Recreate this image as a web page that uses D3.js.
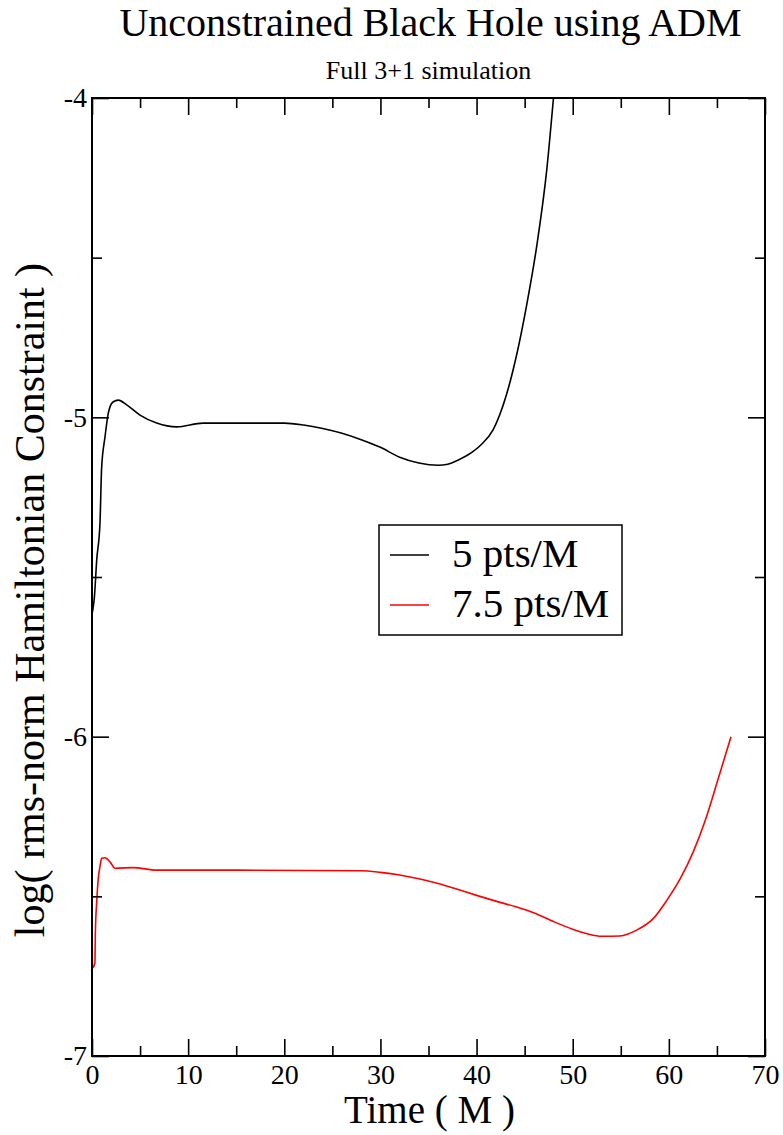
<!DOCTYPE html>
<html>
<head>
<meta charset="utf-8">
<script src="https://cdn.jsdelivr.net/npm/d3@7"></script>
<style>
  html, body { margin: 0; padding: 0; background: #fff; }
  svg { display: block; font-family: "Liberation Serif", "Times New Roman", serif; }
  svg text { font-family: "Liberation Serif", "Times New Roman", serif !important; }
</style>
</head>
<body>
<svg id="chart" width="783" height="1135"></svg>
<script>
// Hamiltonian constraint (log10 of rms norm) vs. time for two resolutions
const timeLow = [0, 0.05, 0.1, 0.24, 0.49, 0.83, 1.0, 1.35, 1.7, 2.18, 2.74, 3.61, 4.99, 6.73, 8.81, 11.55,
  17.5, 20, 22, 24, 26, 28, 30, 32, 34, 36, 37, 38, 39.5, 40.5, 41.7, 43.1, 44.2, 45.2, 46.3, 47.3, 48.0, 48.6];
const hcLow = [-5.55, -5.61, -5.60, -5.566, -5.447, -5.331, -5.159, -5.062, -4.986, -4.952, -4.946, -4.961,
  -4.993, -5.018, -5.030, -5.018, -5.018, -5.018, -5.024, -5.035, -5.050, -5.070, -5.094, -5.125, -5.143,
  -5.150, -5.147, -5.135, -5.110, -5.085, -5.040, -4.930, -4.800, -4.650, -4.455, -4.225, -4.0, -3.8];

const timeHigh = [0, 0.07, 0.3, 0.35, 0.49, 0.66, 0.83, 1.0, 1.35, 1.87, 2.39, 4.3, 6.73, 15, 28, 30, 32, 34,
  36, 38, 40, 42, 44, 46, 48, 50, 51.5, 53, 54.9, 56.7, 58.4, 59.8, 61.2, 62.55, 63.8, 65.1, 66.47];
const hcHigh = [-6.58, -6.724, -6.709, -6.615, -6.517, -6.443, -6.407, -6.381, -6.379, -6.392, -6.412,
  -6.410, -6.418, -6.418, -6.42, -6.425, -6.433, -6.445, -6.46, -6.478, -6.497, -6.515, -6.532, -6.552,
  -6.579, -6.603, -6.617, -6.625, -6.624, -6.605, -6.569, -6.512, -6.444, -6.360, -6.261, -6.135, -6.0];

const seriesNames = ["5 pts/M", "7.5 pts/M"];
const seriesColors = ["#000000", "#ff0000"];
const xTicks = [0, 10, 20, 30, 40, 50, 60, 70];
const yTicks = [-7, -6, -5, -4];

const titleText = "Unconstrained Black Hole using ADM";
const subtitleText = "Full 3+1 simulation";
const xLabel = "Time ( M )";
const yLabel = "log( rms-norm Hamiltonian Constraint )";

const svg = d3.select("#chart");
const m = { left: 92, right: 765, top: 98, bottom: 1056 };

const x = d3.scaleLinear().domain([0, 70]).range([m.left, m.right]);
const y = d3.scaleLinear().domain([-7, -4]).range([m.bottom, m.top]);

svg.append("defs").append("clipPath").attr("id", "plot-clip")
  .append("rect").attr("x", m.left).attr("y", m.top)
  .attr("width", m.right - m.left).attr("height", m.bottom - m.top);

// Curves
const series = [
  { name: seriesNames[0], color: seriesColors[0], pts: timeLow.map((t, i) => [t, hcLow[i]]) },
  { name: seriesNames[1], color: seriesColors[1], pts: timeHigh.map((t, i) => [t, hcHigh[i]]) }
];
const line = d3.line().x(d => x(d[0])).y(d => y(d[1])).curve(d3.curveMonotoneX);
svg.append("g").attr("clip-path", "url(#plot-clip)")
  .selectAll("path").data(series).join("path")
  .attr("d", d => line(d.pts))
  .attr("fill", "none").attr("stroke", d => d.color).attr("stroke-width", 1.6);

// Frame with inward ticks on all four sides
const majorLen = 17, minorLen = 10;
const xMinor = d3.range(5, 70, 10);
const yMinor = [-6.5, -5.5, -4.5];
const fmt = d => String(d);
function styleAxis(g) {
  g.select(".domain").remove();
  g.selectAll(".tick line").attr("stroke", "#000").attr("stroke-width", 1.6);
  g.selectAll(".tick text").attr("fill", "#000").style("font-size", "28px");
}
function addAxis(axisFn, pos, transform, values, len, labels, pad) {
  let a = axisFn(pos).tickValues(values).tickSizeInner(-len).tickSizeOuter(0);
  a = labels ? a.tickFormat(fmt).tickPadding(pad) : a.tickFormat("");
  svg.append("g").attr("transform", transform).call(a).call(styleAxis);
}
addAxis(d3.axisBottom, x, `translate(0,${m.bottom})`, xTicks, majorLen, true, 8);
addAxis(d3.axisBottom, x, `translate(0,${m.bottom})`, xMinor, minorLen, false);
addAxis(d3.axisTop, x, `translate(0,${m.top})`, xTicks, majorLen, false);
addAxis(d3.axisTop, x, `translate(0,${m.top})`, xMinor, minorLen, false);
addAxis(d3.axisLeft, y, `translate(${m.left},0)`, yTicks, majorLen, true, 5);
addAxis(d3.axisLeft, y, `translate(${m.left},0)`, yMinor, minorLen, false);
addAxis(d3.axisRight, y, `translate(${m.right},0)`, yTicks, majorLen, false);
addAxis(d3.axisRight, y, `translate(${m.right},0)`, yMinor, minorLen, false);

svg.append("rect").attr("x", m.left).attr("y", m.top)
  .attr("width", m.right - m.left).attr("height", m.bottom - m.top)
  .attr("fill", "none").attr("stroke", "#000").attr("stroke-width", 2);

// Titles
const cx = (m.left + m.right) / 2;
svg.append("text").attr("x", cx + 2).attr("y", 36).attr("text-anchor", "middle")
  .style("font-size", "40px").text(titleText);
svg.append("text").attr("x", cx).attr("y", 79).attr("text-anchor", "middle")
  .style("font-size", "26px").text(subtitleText);
svg.append("text").attr("x", cx + 1).attr("y", 1123).attr("text-anchor", "middle")
  .style("font-size", "39px").text(xLabel);
svg.append("text").attr("transform", `translate(44,600) rotate(-90)`)
  .attr("text-anchor", "middle").style("font-size", "42px").text(yLabel);

// Legend
const lg = svg.append("g").attr("transform", "translate(379,525)");
lg.append("rect").attr("width", 243).attr("height", 110)
  .attr("fill", "#fff").attr("stroke", "#000").attr("stroke-width", 1.5);
series.forEach((s, i) => {
  const ly = 30 + i * 50;
  lg.append("line").attr("x1", 11).attr("x2", 50).attr("y1", ly).attr("y2", ly)
    .attr("stroke", s.color).attr("stroke-width", 1.5);
  lg.append("text").attr("x", 73).attr("y", ly + 12).style("font-size", "41px").text(s.name);
});
</script>
</body>
</html>
